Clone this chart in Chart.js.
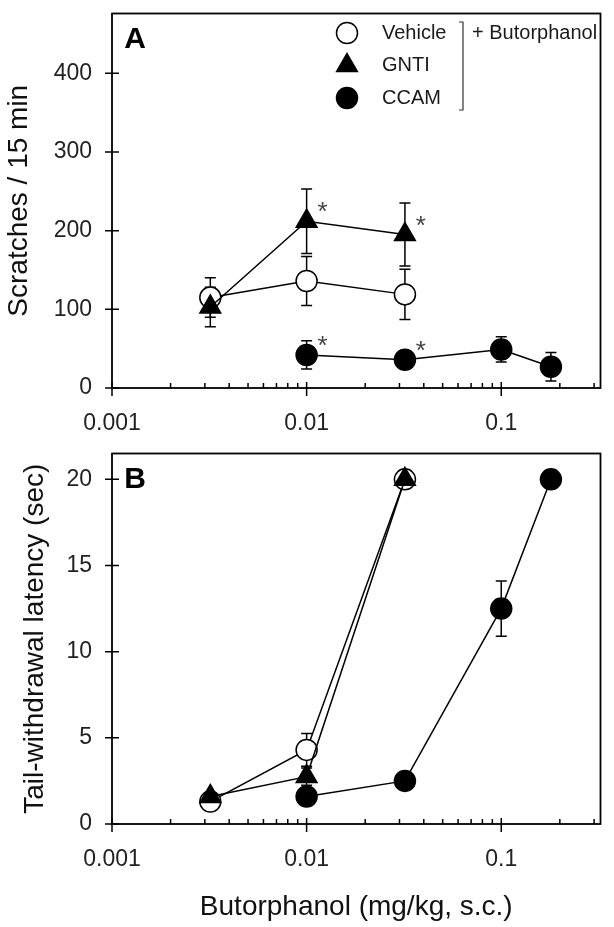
<!DOCTYPE html>
<html>
<head>
<meta charset="utf-8">
<script src="https://cdn.jsdelivr.net/npm/chart.js@4.4.1/dist/chart.umd.min.js"></script>
<style>
  html, body { margin: 0; padding: 0; background: #fff; }
  #wrap { position: relative; width: 614px; height: 927px; }
  #chartA { position: absolute; left: 0; top: 0; }
  #chartB { position: absolute; left: 0; top: 440px; }
</style>
</head>
<body>
<div id="wrap">
  <canvas id="chartA" width="614" height="440"></canvas>
  <canvas id="chartB" width="614" height="487"></canvas>
</div>
<script>
// doses (mg/kg)
const dosesShort = [0.0032, 0.01, 0.032];
const dosesCcam = [0.01, 0.032, 0.1, 0.18];

// panel A: scratches / 15 min, mean and sem
const scratchVehicle = [115, 136, 119];
const scratchVehicleSem = [25, 31, 32];
const scratchGnti = [103, 212, 195];
const scratchGntiSem = [25, 41, 40];
const scratchCcam = [42, 36, 49, 27];
const scratchCcamSem = [18, 8, 16, 18];

// panel B: tail-withdrawal latency (sec)
const latencyVehicle = [1.3, 4.3, 20];
const latencyVehicleSem = [0.2, 0.95, 0];
const latencyGnti = [1.6, 2.75, 20];
const latencyGntiSem = [0.2, 0.5, 0];
const latencyCcam = [1.6, 2.5, 12.5, 20];
const latencyCcamSem = [0.2, 0.2, 1.6, 0];

// * marks in panel A: [series, dose]
const starsA = [["GNTI", 0.01], ["GNTI", 0.032], ["CCAM", 0.01], ["CCAM", 0.032]];

const xTickLabels = ["0.001", "0.01", "0.1"];
const yTicksA = [0, 100, 200, 300, 400];
const yTicksB = [0, 5, 10, 15, 20];
const xMin = 0.001;
const xMax = 0.3236;

const FONT = '"Liberation Sans", Arial, sans-serif';
Chart.defaults.font.family = FONT;
Chart.defaults.color = "#1a1a1a";

function logTicks() {
  const out = [];
  for (let e = -3; e <= -1; e++) {
    for (let m = 1; m <= 9; m++) {
      const v = m * Math.pow(10, e);
      if (v <= xMax) out.push({ value: v, major: m === 1 });
    }
  }
  return out;
}

function labelFor(v) {
  return xTickLabels.find((l) => Math.abs(Number(l) - v) < 1e-9) || "";
}

function drawMarker(ctx, style, x, y, r, fill) {
  ctx.beginPath();
  if (style === "triangle") {
    for (let k = 0; k < 3; k++) {
      const a = (k * 2 * Math.PI) / 3;
      const px = x + Math.sin(a) * r;
      const py = y - Math.cos(a) * r;
      if (k) ctx.lineTo(px, py);
      else ctx.moveTo(px, py);
    }
    ctx.closePath();
  } else {
    ctx.arc(x, y, r, 0, Math.PI * 2);
  }
  ctx.fillStyle = fill;
  ctx.fill();
  ctx.lineWidth = 1.5;
  ctx.strokeStyle = "#000";
  ctx.stroke();
}

function series(label, style, xs, ys, sem, fill, order) {
  const r = style === "triangle" ? 12 : 10.5;
  return {
    label,
    data: xs.map((x, i) => ({ x, y: ys[i] })),
    sem,
    pointStyle: style,
    pointRadius: r,
    pointHoverRadius: r,
    pointBackgroundColor: fill,
    pointBorderColor: "#000",
    pointBorderWidth: 1.5,
    borderColor: "#000",
    borderWidth: 1.5,
    tension: 0,
    fill: false,
    clip: false,
    order,
  };
}

const errorBars = {
  id: "errorBars",
  beforeDatasetsDraw(chart) {
    const { ctx } = chart;
    const y = chart.scales.y;
    ctx.save();
    ctx.strokeStyle = "#000";
    ctx.lineWidth = 1.5;
    chart.data.datasets.forEach((ds, i) => {
      chart.getDatasetMeta(i).data.forEach((pt, j) => {
        const e = ds.sem[j];
        if (!e) return;
        const top = y.getPixelForValue(ds.data[j].y + e);
        const bot = y.getPixelForValue(ds.data[j].y - e);
        ctx.beginPath();
        ctx.moveTo(pt.x, top);
        ctx.lineTo(pt.x, bot);
        ctx.moveTo(pt.x - 5.5, top);
        ctx.lineTo(pt.x + 5.5, top);
        ctx.moveTo(pt.x - 5.5, bot);
        ctx.lineTo(pt.x + 5.5, bot);
        ctx.stroke();
      });
    });
    ctx.restore();
  },
};

const frame = {
  id: "frame",
  afterDraw(chart, args, opts) {
    const { ctx, chartArea: a } = chart;
    const { x, y } = chart.scales;
    ctx.save();
    ctx.strokeStyle = "#000";
    ctx.lineWidth = 1.8;
    ctx.strokeRect(a.left, a.top, a.right - a.left, a.bottom - a.top);
    ctx.lineWidth = 1.5;
    ctx.beginPath();
    y.ticks.forEach((t) => {
      const py = y.getPixelForValue(t.value);
      ctx.moveTo(a.left - 7, py);
      ctx.lineTo(a.left + 7, py);
    });
    x.ticks.forEach((t) => {
      const px = x.getPixelForValue(t.value);
      if (t.major) {
        ctx.moveTo(px, a.bottom - 6);
        ctx.lineTo(px, a.bottom + 8);
      } else {
        ctx.moveTo(px, a.bottom - 5);
        ctx.lineTo(px, a.bottom);
      }
    });
    ctx.stroke();

    // panel letter
    ctx.fillStyle = "#000";
    ctx.font = "bold 30px " + FONT;
    ctx.textAlign = "center";
    ctx.textBaseline = "middle";
    ctx.fillText(opts.letter, a.left + 23, a.top + 26);
    ctx.restore();
  },
};

const stars = {
  id: "stars",
  afterDatasetsDraw(chart, args, opts) {
    if (!opts.marks) return;
    const { ctx } = chart;
    ctx.save();
    ctx.fillStyle = "#444";
    ctx.font = "26px " + FONT;
    ctx.textAlign = "center";
    ctx.textBaseline = "middle";
    opts.marks.forEach(([name, dose]) => {
      const i = chart.data.datasets.findIndex((d) => d.label === name);
      const j = chart.data.datasets[i].data.findIndex((p) => p.x === dose);
      const pt = chart.getDatasetMeta(i).data[j];
      ctx.fillText("*", pt.x + 16, pt.y - 8);
    });
    ctx.restore();
  },
};

const bracketLegend = {
  id: "bracketLegend",
  afterDraw(chart, args, opts) {
    if (!opts.show) return;
    const { ctx } = chart;
    ctx.save();
    ctx.font = "20px " + FONT;
    ctx.textBaseline = "middle";
    ctx.textAlign = "left";
    chart.data.datasets.forEach((ds, i) => {
      const yy = opts.y + i * opts.gap;
      drawMarker(ctx, ds.pointStyle, opts.x, yy, ds.pointRadius, ds.pointBackgroundColor);
      ctx.fillStyle = "#1a1a1a";
      ctx.fillText(ds.label, opts.x + 35, yy);
    });
    const bx = opts.x + 116;
    const y0 = opts.y - 11;
    const y1 = opts.y + 2 * opts.gap + 12;
    ctx.strokeStyle = "#333";
    ctx.lineWidth = 1.2;
    ctx.beginPath();
    ctx.moveTo(bx - 4, y0);
    ctx.lineTo(bx, y0);
    ctx.lineTo(bx, y1);
    ctx.lineTo(bx - 4, y1);
    ctx.stroke();
    ctx.fillStyle = "#1a1a1a";
    ctx.fillText("+ Butorphanol", bx + 9, opts.y);
    ctx.restore();
  },
};

function xScale(height, showTitle) {
  return {
    type: "logarithmic",
    min: xMin,
    max: xMax,
    afterBuildTicks: (s) => { s.ticks = logTicks(); },
    afterFit: (s) => {
      s.height = height;
      s.paddingLeft = 0;
      s.paddingRight = 0;
    },
    grid: { display: false, drawTicks: false, tickLength: 0 },
    border: { display: false },
    ticks: {
      autoSkip: false,
      maxRotation: 0,
      padding: 22,
      color: "#222",
      font: { size: 23 },
      callback: (v) => labelFor(v),
    },
    title: {
      display: showTitle,
      text: "Butorphanol (mg/kg, s.c.)",
      color: "#111",
      font: { size: 28 },
      padding: { top: 0, bottom: 3 },
    },
  };
}

function yScale(ticksArr, max, title, titlePad) {
  return {
    type: "linear",
    min: 0,
    max,
    afterBuildTicks: (s) => { s.ticks = ticksArr.map((v) => ({ value: v })); },
    afterFit: (s) => {
      s.width = 112;
      s.paddingTop = 0;
      s.paddingBottom = 0;
    },
    grid: { display: false, drawTicks: false, tickLength: 0 },
    border: { display: false },
    ticks: { padding: 20, color: "#222", font: { size: 23 } },
    title: {
      display: true,
      text: title,
      color: "#111",
      font: { size: 28 },
      padding: { top: titlePad, bottom: 0 },
    },
  };
}

new Chart(document.getElementById("chartA"), {
  type: "line",
  data: {
    datasets: [
      series("Vehicle", "circle", dosesShort, scratchVehicle, scratchVehicleSem, "#fff", 2),
      series("GNTI", "triangle", dosesShort, scratchGnti, scratchGntiSem, "#000", 1),
      series("CCAM", "circle", dosesCcam, scratchCcam, scratchCcamSem, "#000", 0),
    ],
  },
  options: {
    responsive: false,
    animation: false,
    layout: { padding: { top: 11, right: 9, left: 0, bottom: 0 } },
    scales: {
      x: xScale(52, false),
      y: yScale(yTicksA, 476, "Scratches / 15 min", 2),
    },
    plugins: {
      legend: { display: false },
      tooltip: { enabled: false },
      frame: { letter: "A" },
      stars: { marks: starsA },
      bracketLegend: { show: true, x: 347, y: 33, gap: 32.5 },
    },
  },
  plugins: [errorBars, frame, stars, bracketLegend],
});

new Chart(document.getElementById("chartB"), {
  type: "line",
  data: {
    datasets: [
      series("Vehicle", "circle", dosesShort, latencyVehicle, latencyVehicleSem, "#fff", 2),
      series("GNTI", "triangle", dosesShort, latencyGnti, latencyGntiSem, "#000", 1),
      series("CCAM", "circle", dosesCcam, latencyCcam, latencyCcamSem, "#000", 0),
    ],
  },
  options: {
    responsive: false,
    animation: false,
    layout: { padding: { top: 6, right: 9, left: 0, bottom: 0 } },
    scales: {
      x: xScale(103, true),
      y: yScale(yTicksB, 21.5, "Tail-withdrawal latency (sec)", 18),
    },
    plugins: {
      legend: { display: false },
      tooltip: { enabled: false },
      frame: { letter: "B" },
      stars: { marks: null },
      bracketLegend: { show: false },
    },
  },
  plugins: [errorBars, frame, stars, bracketLegend],
});
</script>
</body>
</html>
